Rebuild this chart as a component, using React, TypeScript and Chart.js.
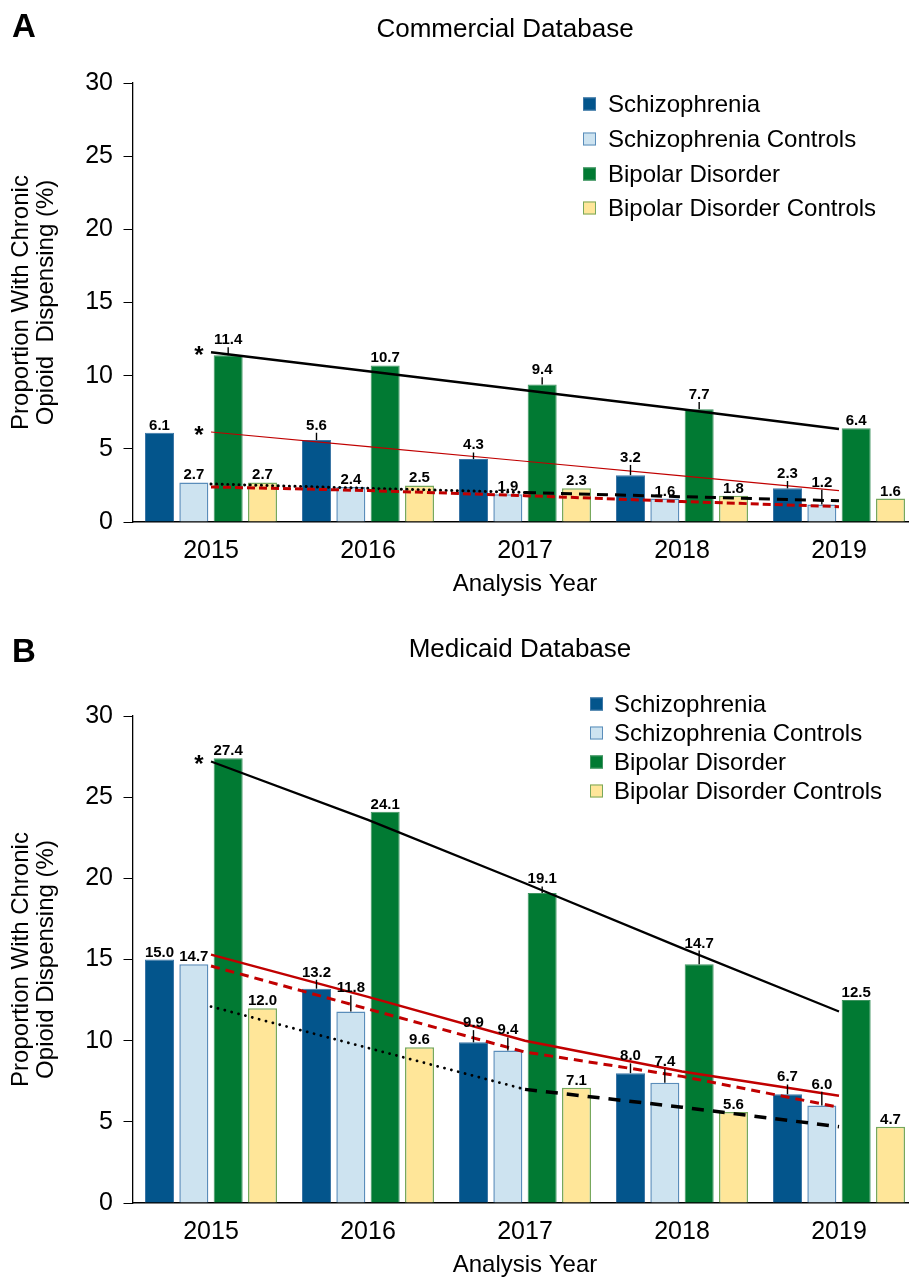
import React, { useEffect, useRef } from 'react';
import { Chart, registerables } from 'chart.js';

Chart.register(...registerables);

const FONT = '"Liberation Sans", Arial, Helvetica, sans-serif';

// ---------- shared labels ----------
const years = ['2015', '2016', '2017', '2018', '2019'];
const seriesNames = ['Schizophrenia', 'Schizophrenia Controls', 'Bipolar Disorder', 'Bipolar Disorder Controls'];
const yMin = 0;
const yMax = 30;
const yStep = 5;

// ---------- Panel A: Commercial Database ----------
const comSchizo = [6.1, 5.6, 4.3, 3.2, 2.3];
const comSchizoCtrl = [2.7, 2.4, 1.9, 1.6, 1.2];
const comBipolar = [11.4, 10.7, 9.4, 7.7, 6.4];
const comBipolarCtrl = [2.7, 2.5, 2.3, 1.8, 1.6];
const comSchizoErr = [0, 0.5, 0.45, 0.7, 0.5];
const comSchizoCtrlErr = [0, 0, 0, 0, 1.0];
const comBipolarErr = [0.55, 0, 0.5, 0.5, 0];
const comBipolarCtrlErr = [0, 0, 0, 0, 0];
const comBipolarTrend = [11.6, 10.3, 9.0, 7.7, 6.35];
const comSchizoTrend = [6.15, 5.15, 4.15, 3.15, 2.14];
const comSchizoCtrlTrend = [2.4, 2.15, 1.8, 1.4, 1.05];
const comBipolarCtrlDotted = [2.6, 2.3, 2.02, null, null];
const comBipolarCtrlDashed = [null, null, 2.02, 1.73, 1.45];

// ---------- Panel B: Medicaid Database ----------
const medSchizo = [15.0, 13.2, 9.9, 8.0, 6.7];
const medSchizoCtrl = [14.7, 11.8, 9.4, 7.4, 6.0];
const medBipolar = [27.4, 24.1, 19.1, 14.7, 12.5];
const medBipolarCtrl = [12.0, 9.6, 7.1, 5.6, 4.7];
const medSchizoErr = [0, 0.55, 0.75, 0.6, 0.6];
const medSchizoCtrlErr = [0, 1.0, 0.8, 0.85, 0.85];
const medBipolarErr = [0, 0, 0.4, 0.85, 0];
const medBipolarCtrlErr = [0, 0, 0, 0, 0];
const medBipolarTrend = [27.2, 23.6, 19.7, 15.7, 11.8];
const medSchizoTrend = [15.3, 12.7, 10.0, 8.1, 6.6];
const medSchizoCtrlTrend = [14.6, 11.95, 9.3, 7.8, 5.9];
const medBipolarCtrlDotted = [12.1, 9.55, 7.0, null, null];
const medBipolarCtrlDashed = [null, null, 7.0, 5.9, 4.7];

// ---------- styles ----------
const barFill = ['#03558C', '#CDE3F0', '#017A33', '#FFE699'];
const barBorder = ['#3C76A6', '#5A8DBA', '#3F9460', '#77A85C'];
const barBorderWidth = [1, 1.5, 1, 1.5];
const RED = '#C00000';

type PanelSpec = {
  key: string;
  letter: string;
  title: string;
  yTitle: string[];
  bars: number[][];
  errs: number[][];
  lines: any[];
  padTop: number;
  canvasH: number;
  titleX: number;
  titleBase: number;
  letterBase: number;
  legendSqX: number;
  legendTxtX: number;
  legendRows: number[];
};

const panelA: PanelSpec = {
  key: 'A',
  letter: 'A',
  title: 'Commercial Database',
  yTitle: ['Proportion With Chronic', 'Opioid  Dispensing (%)'],
  bars: [comSchizo, comSchizoCtrl, comBipolar, comBipolarCtrl],
  errs: [comSchizoErr, comSchizoCtrlErr, comBipolarErr, comBipolarCtrlErr],
  lines: [
    { data: comBipolarTrend, color: '#000', width: 2.5, dash: [], star: true },
    { data: comSchizoTrend, color: RED, width: 1.2, dash: [], star: true },
    { data: comSchizoCtrlTrend, color: RED, width: 3, dash: [8, 4], cap: 'butt' },
    { data: comBipolarCtrlDotted, color: '#000', width: 3, dash: [0.1, 5.5], cap: 'round' },
    { data: comBipolarCtrlDashed, color: '#000', width: 3, dash: [11, 7], cap: 'butt' },
  ],
  padTop: 83,
  canvasH: 602,
  titleX: 505,
  titleBase: 37,
  letterBase: 37,
  legendSqX: 583,
  legendTxtX: 608,
  legendRows: [104, 139, 174, 208],
};

const panelB: PanelSpec = {
  key: 'B',
  letter: 'B',
  title: 'Medicaid Database',
  yTitle: ['Proportion With Chronic', 'Opioid Dispensing (%)'],
  bars: [medSchizo, medSchizoCtrl, medBipolar, medBipolarCtrl],
  errs: [medSchizoErr, medSchizoCtrlErr, medBipolarErr, medBipolarCtrlErr],
  lines: [
    { data: medBipolarTrend, color: '#000', width: 2.2, dash: [], star: true },
    { data: medSchizoTrend, color: RED, width: 2.5, dash: [] },
    { data: medSchizoCtrlTrend, color: RED, width: 3, dash: [9, 6], cap: 'butt' },
    { data: medBipolarCtrlDotted, color: '#000', width: 2.8, dash: [0.1, 7], cap: 'round' },
    { data: medBipolarCtrlDashed, color: '#000', width: 3.5, dash: [12, 9], cap: 'butt' },
  ],
  padTop: 101,
  canvasH: 668,
  titleX: 520,
  titleBase: 42,
  letterBase: 47,
  legendSqX: 590,
  legendTxtX: 614,
  legendRows: [89, 118, 147, 176],
};

const CANVAS_W = 930;
const PLOT_LEFT = 132.5;
const PLOT_RIGHT = 917.5;
const X_AXIS_H = 80;

function overlayPlugin(p: PanelSpec) {
  return {
    id: 'overlay' + p.key,
    afterDatasetsDraw(chart: any) {
      const ctx = chart.ctx;
      const ys = chart.scales.y;
      ctx.save();
      chart.data.datasets.forEach((ds: any, di: number) => {
        if (ds.type === 'line') return;
        const meta = chart.getDatasetMeta(di);
        meta.data.forEach((el: any, i: number) => {
          const v = ds.data[i];
          const e = ds.err[i];
          let topY = ys.getPixelForValue(v);
          if (e > 0) {
            const ey = ys.getPixelForValue(v + e);
            ctx.strokeStyle = '#000';
            ctx.lineWidth = 1.4;
            ctx.beginPath();
            ctx.moveTo(el.x, topY);
            ctx.lineTo(el.x, ey);
            ctx.stroke();
            topY = ey;
          }
          ctx.fillStyle = '#000';
          ctx.font = `bold 15px ${FONT}`;
          ctx.textAlign = 'center';
          ctx.textBaseline = 'alphabetic';
          ctx.fillText(v.toFixed(1), el.x, topY - 3);
        });
      });
      chart.data.datasets.forEach((ds: any, di: number) => {
        if (!ds.star) return;
        const el = chart.getDatasetMeta(di).data[0];
        ctx.fillStyle = '#000';
        ctx.font = `bold 24px ${FONT}`;
        ctx.textAlign = 'center';
        ctx.textBaseline = 'alphabetic';
        ctx.fillText('*', el.x - 12, el.y + 11);
      });
      ctx.restore();
    },
    afterDraw(chart: any) {
      const ctx = chart.ctx;
      ctx.save();
      ctx.fillStyle = '#000';
      ctx.textBaseline = 'alphabetic';
      ctx.font = `bold 33px ${FONT}`;
      ctx.textAlign = 'left';
      ctx.fillText(p.letter, 12, p.letterBase);
      ctx.font = `26px ${FONT}`;
      ctx.textAlign = 'center';
      ctx.fillText(p.title, p.titleX, p.titleBase);
      // legend
      seriesNames.forEach((name, i) => {
        const cy = p.legendRows[i];
        ctx.fillStyle = barFill[i];
        ctx.fillRect(p.legendSqX, cy - 6.5, 13, 13);
        ctx.strokeStyle = barBorder[i];
        ctx.lineWidth = 1;
        ctx.strokeRect(p.legendSqX + 0.5, cy - 6, 12, 12);
        ctx.fillStyle = '#000';
        ctx.font = `24px ${FONT}`;
        ctx.textAlign = 'left';
        ctx.textBaseline = 'middle';
        ctx.fillText(name, p.legendTxtX, cy + 1);
      });
      ctx.restore();
    },
  };
}

function buildConfig(p: PanelSpec): any {
  const datasets: any[] = [];
  p.lines.forEach((l) => {
    datasets.push({
      type: 'line',
      data: l.data,
      borderColor: l.color,
      borderWidth: l.width,
      borderDash: l.dash,
      borderCapStyle: l.cap || 'butt',
      pointRadius: 0,
      pointHoverRadius: 0,
      fill: false,
      tension: 0,
      spanGaps: false,
      order: 0,
      star: !!l.star,
    });
  });
  p.bars.forEach((vals, i) => {
    datasets.push({
      type: 'bar',
      label: seriesNames[i],
      data: vals,
      err: p.errs[i],
      backgroundColor: barFill[i],
      borderColor: barBorder[i],
      borderWidth: barBorderWidth[i],
      categoryPercentage: 0.875,
      barPercentage: 0.845,
      order: 1,
    });
  });
  return {
    type: 'bar',
    data: { labels: years, datasets },
    options: {
      responsive: false,
      animation: false,
      devicePixelRatio: 1,
      layout: { padding: { top: p.padTop, left: 0, right: CANVAS_W - PLOT_RIGHT, bottom: 0 } },
      plugins: { legend: { display: false }, tooltip: { enabled: false }, title: { display: false } },
      scales: {
        x: {
          type: 'category',
          offset: true,
          grid: { display: false, drawTicks: false },
          border: { display: true, color: '#000', width: 1.5 },
          ticks: { color: '#000', font: { family: FONT, size: 25 }, padding: 14, maxRotation: 0 },
          title: {
            display: true,
            text: 'Analysis Year',
            color: '#000',
            font: { family: FONT, size: 24, lineHeight: 1.2 },
            padding: { top: 0, bottom: 3.6 },
          },
          afterFit: (scale: any) => {
            scale.height = X_AXIS_H;
          },
        },
        y: {
          min: yMin,
          max: yMax,
          grid: { drawOnChartArea: false, drawTicks: true, tickLength: 9, color: '#000', lineWidth: 1 },
          border: { display: true, color: '#000', width: 1.3 },
          ticks: { stepSize: yStep, color: '#000', font: { family: FONT, size: 25 }, padding: 10.5 },
          title: {
            display: true,
            text: p.yTitle,
            color: '#000',
            font: { family: FONT, size: 24, lineHeight: 1.05 },
            padding: { top: 9, bottom: 0 },
          },
          afterFit: (scale: any) => {
            scale.width = PLOT_LEFT;
          },
        },
      },
    },
    plugins: [overlayPlugin(p)],
  };
}

function ChartPanel({ spec, top }: { spec: PanelSpec; top: number }) {
  const ref = useRef<HTMLCanvasElement>(null);
  useEffect(() => {
    const chart = new Chart(ref.current as HTMLCanvasElement, buildConfig(spec));
    return () => chart.destroy();
  }, [spec]);
  return (
    <canvas
      ref={ref}
      width={CANVAS_W}
      height={spec.canvasH}
      style={{ position: 'absolute', left: 0, top, width: CANVAS_W, height: spec.canvasH }}
    />
  );
}

export default function App() {
  return (
    <div
      style={{
        position: 'fixed',
        left: 0,
        top: 0,
        width: 909,
        height: 1278,
        overflow: 'hidden',
        background: '#fff',
      }}
    >
      <ChartPanel spec={panelA} top={0} />
      <ChartPanel spec={panelB} top={615} />
    </div>
  );
}
